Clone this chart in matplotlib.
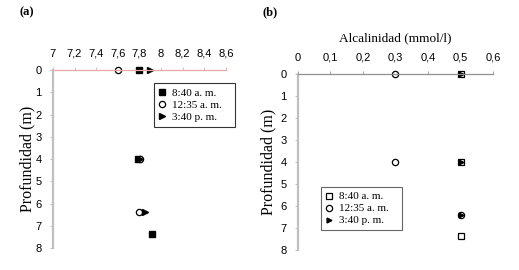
import matplotlib
matplotlib.use("Agg")
import matplotlib.pyplot as plt

# datos (a) pH
depth_840_a = [0, 4, 7.35]
ph_840 = [7.8, 7.79, 7.92]
depth_1235_a = [0, 4, 6.4]
ph_1235 = [7.6, 7.81, 7.8]
depth_340_a = [0, 4, 6.4]
ph_340 = [7.9, 7.81, 7.85]

# datos (b) alcalinidad
depth_840_b = [0, 4, 7.35]
alc_840 = [0.5, 0.5, 0.5]
depth_1235_b = [0, 4, 6.4]
alc_1235 = [0.3, 0.3, 0.5]
depth_340_b = [0, 4, 6.4]
alc_340 = [0.5, 0.5, 0.5]

ph_ticks = [7, 7.2, 7.4, 7.6, 7.8, 8, 8.2, 8.4, 8.6]
alc_ticks = [0, 0.1, 0.2, 0.3, 0.4, 0.5, 0.6]
depth_ticks = [0, 1, 2, 3, 4, 5, 6, 7, 8]
labels = ["8:40 a. m.", "12:35 a. m.", "3:40 p. m."]

serif = "Liberation Serif"
sans = "Liberation Sans"


def comma(v):
    s = f"{v:g}"
    return s.replace(".", ",")


def style_axis(ax, xticks, xlim, top_color):
    ax.set_xlim(*xlim)
    ax.set_ylim(8, 0)
    ax.xaxis.tick_top()
    ax.set_xticks(xticks)
    ax.set_xticklabels([comma(t) for t in xticks], fontfamily=sans, fontsize=8)
    ax.set_yticks(depth_ticks)
    ax.set_yticklabels([str(t) for t in depth_ticks], fontfamily=sans, fontsize=8)
    ax.tick_params(axis="x", direction="out", length=2, width=0.6, colors=top_color,
                   labelcolor="black", pad=6)
    ax.tick_params(axis="y", direction="out", length=2, width=0.6, colors="#b0b0b0",
                   labelcolor="black", pad=6)
    for s in ["right", "bottom"]:
        ax.spines[s].set_visible(False)
    ax.spines["top"].set_color(top_color)
    ax.spines["top"].set_linewidth(0.9)
    ax.spines["left"].set_color("#c0c0c0")
    ax.spines["left"].set_linewidth(1.6)
    ax.set_ylabel("Profundidad (m)", fontfamily=serif, fontsize=11.5)
    ax.patch.set_alpha(0)


def add_legend(ax, box, edge):
    leg = ax.legend(loc="upper left", bbox_to_anchor=box, mode="expand", frameon=True,
                    fancybox=False, prop={"family": serif, "size": 8}, handlelength=0.6,
                    handletextpad=0.6, borderpad=0.45, labelspacing=0.2, borderaxespad=0)
    leg.get_frame().set_edgecolor(edge)
    leg.get_frame().set_linewidth(0.8)
    return leg


fig = plt.figure(figsize=(5.19, 2.70), dpi=100)

# (a)
ax1 = fig.add_axes([0.102, 0.0815, 0.333, 0.659])
style_axis(ax1, ph_ticks, (7, 8.6), "#e8a8a8")
ax1.plot(ph_840, depth_840_a, "s", color="black", markersize=4, clip_on=False, label=labels[0])
ax1.plot(ph_1235, depth_1235_a, "o", mfc="white", mec="black", mew=0.9, markersize=4.5,
         clip_on=False, label=labels[1])
ax1.plot(ph_340, depth_340_a, ">", color="black", markersize=4, clip_on=False, label=labels[2])
ax1.yaxis.set_label_coords(-0.10, 0.5)
add_legend(ax1, (0.584, 0.622, 0.468, 0.303), "black")
fig.text(0.038, 0.945, "(a)", fontfamily=serif, fontweight="bold", fontsize=9)

# (b)
ax2 = fig.add_axes([0.574, 0.074, 0.376, 0.652])
style_axis(ax2, alc_ticks, (0, 0.6), "#909090")
ax2.plot(alc_840, depth_840_b, "s", mfc="white", mec="black", mew=0.9, markersize=4.5,
         clip_on=False, label=labels[0])
ax2.plot(alc_1235, depth_1235_b, "o", mfc="white", mec="black", mew=0.9, markersize=4.5,
         clip_on=False, label=labels[1])
ax2.plot(alc_340, depth_340_b, ">", color="black", markersize=3.5, clip_on=False, label=labels[2])
ax2.yaxis.set_label_coords(-0.11, 0.5)
ax2.set_xlabel("Alcalinidad (mmol/l)", fontfamily=serif, fontsize=9.5, labelpad=8)
ax2.xaxis.set_label_position("top")
add_legend(ax2, (0.118, 0.07, 0.415, 0.29), "#404040")
fig.text(0.505, 0.945, "(b)", fontfamily=serif, fontweight="bold", fontsize=9)

fig.savefig("out.png", dpi=100)
